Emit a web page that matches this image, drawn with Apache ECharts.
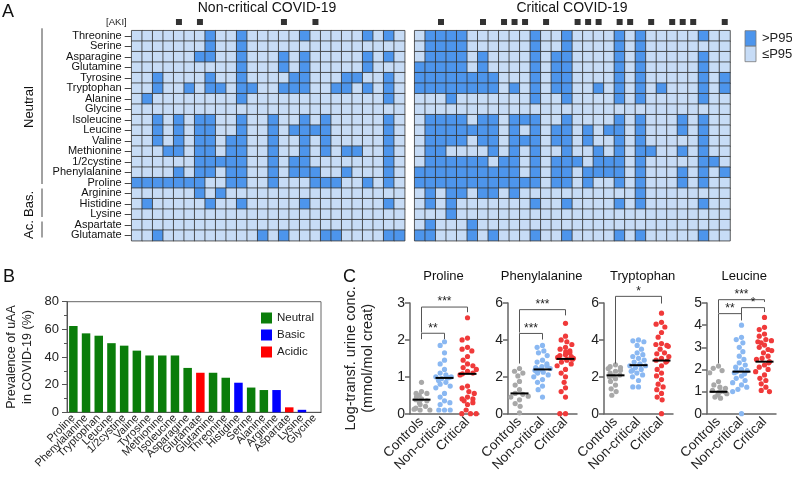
<!DOCTYPE html>
<html><head><meta charset="utf-8">
<script src="https://cdn.jsdelivr.net/npm/echarts@6/dist/echarts.min.js"></script>
<style>html,body{margin:0;padding:0;background:#fff}#c{width:792px;height:483px}</style>
</head><body><div id="c"></div>
<script>
// ---------------- Panel A data ----------------
const aaRows = ['Threonine','Serine','Asparagine','Glutamine','Tyrosine','Tryptophan','Alanine','Glycine','Isoleucine','Leucine','Valine','Methionine','1/2cystine','Phenylalanine','Proline','Arginine','Histidine','Lysine','Aspartate','Glutamate'];
const nNonCritical = 26;
const nCritical = 30;
// patient columns (0-based) with value > P95, one list per amino acid row
const nonCritHigh = [
 [7,10,16,22,24],
 [7,10],
 [6,7,10,14,16,22,24],
 [10,14,16,22],
 [2,7,10,15,16,20,21,24],
 [2,5,7,8,10,11,14,15,16,19,20,22,24],
 [1,10,24],
 [],
 [2,4,6,7,10,13,16,18,24],
 [2,4,6,7,10,13,15,16,17,18,24],
 [2,4,6,7,9,10,13,16,18,24],
 [3,4,6,7,9,10,13,16,18,20,21,24],
 [6,7,8,9,10,13,15,16,24],
 [4,6,7,9,10,13,15,16,17,20,24],
 [0,1,2,3,4,5,6,9,10,13,17,18,19,22,24],
 [6,8],
 [1,7,10,16,24],
 [],
 [],
 [2,12,14,18,19,24,25]
];
const critHigh = [
 [1,2,3,4,11,14,19,21,27],
 [1,2,3,4,11,14,19,21],
 [1,2,3,4,6,11,13,14,19,21,27],
 [0,1,2,3,4,6,11,13,14,19,21,27],
 [0,1,2,3,4,5,6,7,11,13,14,19,21,27,29],
 [0,1,2,3,4,5,6,7,9,11,13,14,17,19,21,23,27,29],
 [3,11,14,19,21,27],
 [],
 [1,2,3,4,6,7,9,10,11,14,19,21,25,27],
 [1,2,3,4,5,6,7,9,11,13,14,16,18,19,21,25,27],
 [1,2,3,4,6,7,9,10,11,13,14,16,19,21,27],
 [1,2,7,9,11,14,17,19,21,22,25,27],
 [1,2,3,4,5,6,8,9,11,13,14,15,17,18,19,21,27,28],
 [0,1,2,3,4,5,6,7,8,9,11,13,14,16,17,18,19,21,25,27,29],
 [0,1,2,3,4,5,6,7,8,9,10,11,13,14,16,19,21,25,27],
 [1,3,4,6,7,9,21],
 [1,3,11,14,19,21,27],
 [3],
 [1,5],
 [0,1,5,7,11,14,19,21,27]
];
const akiNonCrit = [4,6,14,17];
const akiCrit = [2,6,8,9,10,12,15,16,17,19,20,22,24,25,26,29];
const heatLegend = ['>P95','≤P95'];

// ---------------- Panel B data ----------------
const prevNames = ['Proline','Phenylalanine','Tryptophan','Leucine','1/2cystine','Valine','Tyrosine','Methionine','Isoleucine','Asparagine','Glutamate','Glutamine','Threonine','Histidine','Serine','Alanine','Arginine','Aspartate','Lysine','Glycine'];
const prevValues = [62.5,57.1,55.4,50.0,48.2,44.6,41.1,41.1,41.1,32.1,28.6,28.6,25.0,21.4,17.9,16.1,16.1,3.6,1.8,0];
const prevClass = ['Neutral','Neutral','Neutral','Neutral','Neutral','Neutral','Neutral','Neutral','Neutral','Neutral','Acidic','Neutral','Neutral','Basic','Neutral','Neutral','Basic','Acidic','Basic','Neutral'];
const classNames = ['Neutral','Basic','Acidic'];

// ---------------- Panel C data ----------------
const groupNames = ['Controls','Non-critical','Critical'];
const proCtrl = [0.85,0.6,0.55,0.55,0.5,0.45,0.4,0.38,0.35,0.3,0.25,0.2,0.15,0.12,0.1,0.1];
const proNon  = [1.95,1.85,1.65,1.45,1.35,1.2,1.1,1.05,1.0,1.0,0.98,0.97,0.95,0.9,0.85,0.8,0.75,0.7,0.55,0.45,0.35,0.3,0.25,0.1,0.1,0.1];
const proCrit = [2.6,2.05,2.0,1.8,1.75,1.7,1.55,1.45,1.35,1.3,1.25,1.2,1.15,1.1,1.08,1.05,0.75,0.7,0.6,0.55,0.45,0.4,0.4,0.35,0.3,0.25,0.1,0,0,0];
const proMed  = [0.38,0.97,1.08];
const pheCtrl = [2.45,2.3,2.2,2.05,1.75,1.55,1.3,1.1,1.05,0.95,0.9,0.75,0.55,0.4,0.05];
const pheNon  = [3.7,3.6,3.4,3.3,3.15,2.9,2.8,2.7,2.6,2.55,2.5,2.45,2.4,2.4,2.35,2.3,2.25,2.2,2.1,2.0,1.85,1.7,1.5,1.3,0.9];
const pheCrit = [4.9,4.2,4.0,3.9,3.75,3.6,3.5,3.4,3.35,3.3,3.2,3.15,3.1,3.05,3.0,2.95,2.95,2.9,2.8,2.7,2.6,2.4,2.2,2.0,1.7,1.4,1.2,0.9,0,0];
const pheMed  = [1.1,2.4,2.97];
const trpCtrl = [2.65,2.55,2.5,2.45,2.35,2.3,2.2,2.1,2.05,2.0,1.9,1.75,1.55,1.35,1.2,1.0];
const trpNon  = [4.0,3.95,3.9,3.7,3.5,3.3,3.2,3.1,3.0,2.9,2.8,2.7,2.65,2.6,2.6,2.5,2.4,2.35,2.3,2.2,2.1,2.0,1.8,1.45,1.45];
const trpCrit = [5.45,4.95,4.85,4.7,4.4,4.15,3.8,3.75,3.7,3.65,3.5,3.3,3.25,3.1,3.0,2.9,2.85,2.8,2.6,2.4,2.2,2.05,1.85,1.6,1.45,1.3,1.1,0.9,0.75,0];
const trpMed  = [2.08,2.63,2.88];
const leuCtrl = [2.15,2.05,1.95,1.85,1.45,1.3,1.2,1.15,1.05,1.0,1.0,0.95,0.9,0.85,0.75,0.7];
const leuNon  = [4.0,3.45,3.35,3.2,3.0,2.8,2.6,2.45,2.3,2.2,2.1,2.0,1.95,1.9,1.85,1.8,1.7,1.6,1.5,1.4,1.3,1.2,1.1,1.0,0];
const leuCrit = [4.35,3.9,3.8,3.6,3.5,3.35,3.3,3.25,3.2,3.1,3.0,2.9,2.85,2.75,2.6,2.5,2.45,2.35,2.3,2.2,2.1,2.0,1.9,1.75,1.6,1.5,1.35,1.2,1.05,1.0];
const leuMed  = [0.99,1.9,2.35];
// significance brackets: [fromGroup, toGroup, top, leftLegEnd, rightLegEnd]
const proBr = [[0,2,2.89,2.2,2.75],[0,1,2.18,2.02,2.02]]; const proStars = ['***','**'];
const pheBr = [[0,2,5.64,4.4,5.33],[0,1,4.35,2.72,4.02]]; const pheStars = ['***','***'];
const trpBr = [[0,2,6.36,2.72,5.97]]; const trpStars = ['*'];
const leuBr = [[0,2,5.15,4.55,5.05],[0,1,4.52,2.27,4.22],[1,2,4.79,4.22,4.59]]; const leuStars = ['***','**','*'];

// ---------------- styling ----------------
const FONT = 'Liberation Sans, Arial, sans-serif';
const DARK = '#4d95ec', LIGHT = '#c7dcf6';
const GRAY = '#a8a8a8', BLUE = '#8ab8f2', RED = '#f03a3a';
const classColor = {Neutral:'#0a7d0a', Basic:'#0000ff', Acidic:'#ff0000'};
const AX = '#555';

const chart = echarts.init(document.getElementById('c'), null, {renderer:'canvas'});

function heatData(high, n){
  const d=[];
  high.forEach((cols,r)=>{ for(let c=0;c<n;c++) d.push([c,r,cols.includes(c)?1:0]); });
  return d;
}
const colsL = Array.from({length:nNonCritical},(_,i)=>String(i));
const colsR = Array.from({length:nCritical},(_,i)=>String(i));

const grid = [
 {left:131.7, top:30.7, width:273, height:210},
 {left:414.7, top:30.7, width:315.3, height:210},
 {left:131.7, top:17, width:273, height:10},
 {left:414.7, top:17, width:315.3, height:10},
 {left:67, top:301.7, width:254, height:110.6, show:true, borderColor:'#666', borderWidth:1},
 {left:410, top:303, width:69, height:110.7},
 {left:508, top:303, width:69, height:110.7},
 {left:604, top:303, width:69, height:110.7},
 {left:707, top:303, width:69, height:110.7}
];
const xAxis = [
 {gridIndex:0, type:'category', data:colsL, show:false},
 {gridIndex:1, type:'category', data:colsR, show:false},
 {gridIndex:2, type:'category', data:colsL, show:false},
 {gridIndex:3, type:'category', data:colsR, show:false},
 {gridIndex:4, type:'category', data:prevNames,
  axisLine:{lineStyle:{color:AX}}, axisTick:{alignWithLabel:true, length:4, lineStyle:{color:AX}},
  axisLabel:{rotate:45, interval:0, fontSize:11, color:'#222', margin:4, fontFamily:FONT}}
];
const yAxis = [
 {gridIndex:0, type:'category', data:aaRows, inverse:true,
  axisLine:{show:false}, axisTick:{show:true, length:7, alignWithLabel:true, interval:0, lineStyle:{color:'#444'}},
  axisLabel:{fontSize:11, color:'#111', margin:10, interval:0, fontFamily:FONT}},
 {gridIndex:1, type:'category', data:aaRows, inverse:true, show:false},
 {gridIndex:2, type:'category', data:['[AKI]'], axisLine:{show:false}, axisTick:{show:false},
  axisLabel:{fontSize:9.5, color:'#222', margin:5, fontFamily:FONT}},
 {gridIndex:3, type:'category', data:['[AKI]'], show:false},
 {gridIndex:4, type:'value', min:0, max:80, interval:20,
  name:'Prevalence of uAA\nin COVID-19 (%)', nameLocation:'middle', nameGap:31, nameRotate:90,
  nameTextStyle:{fontSize:12.5, color:'#222', lineHeight:16, fontFamily:FONT},
  axisLine:{show:true, lineStyle:{color:AX}}, axisTick:{show:true, length:5, lineStyle:{color:AX}},
  minorTick:{show:true, splitNumber:2, length:3, lineStyle:{color:AX}},
  splitLine:{show:false}, axisLabel:{fontSize:13, color:'#222', fontFamily:FONT}}
];

const series = [
 {type:'heatmap', xAxisIndex:0, yAxisIndex:0, data:heatData(nonCritHigh,nNonCritical),
  itemStyle:{borderColor:'#333', borderWidth:0.8}, emphasis:{disabled:true}},
 {type:'heatmap', xAxisIndex:1, yAxisIndex:1, data:heatData(critHigh,nCritical),
  itemStyle:{borderColor:'#333', borderWidth:0.8}, emphasis:{disabled:true}},
 {type:'scatter', xAxisIndex:2, yAxisIndex:2, data:akiNonCrit.map(c=>[c,0]), symbol:'rect', symbolSize:6, itemStyle:{color:'#000'}},
 {type:'scatter', xAxisIndex:3, yAxisIndex:3, data:akiCrit.map(c=>[c,0]), symbol:'rect', symbolSize:6, itemStyle:{color:'#000'}}
];
classNames.forEach(cn=>{
  series.push({type:'bar', name:cn, xAxisIndex:4, yAxisIndex:4, barWidth:8.5, barGap:'-100%',
    data:prevValues.map((v,i)=>prevClass[i]===cn? v : null), itemStyle:{color:classColor[cn]}});
});

const cPlots = [
 {title:'Proline', max:3, interval:1, g:[proCtrl,proNon,proCrit], med:proMed, br:proBr, st:proStars, tx:443.6},
 {title:'Phenylalanine', max:6, interval:2, g:[pheCtrl,pheNon,pheCrit], med:pheMed, br:pheBr, st:pheStars, tx:541.7},
 {title:'Tryptophan', max:6, interval:2, g:[trpCtrl,trpNon,trpCrit], med:trpMed, br:trpBr, st:trpStars, tx:642.7},
 {title:'Leucine', max:5, interval:1, g:[leuCtrl,leuNon,leuCrit], med:leuMed, br:leuBr, st:leuStars, tx:744.3}
];
const graphic = [];
cPlots.forEach((p,k)=>{
  const gi = 5+k;
  xAxis.push({gridIndex:gi, type:'category', data:groupNames, jitter:18, jitterOverlap:false, jitterMargin:0.5,
    axisLine:{lineStyle:{color:'#666', width:1.5}}, axisTick:{alignWithLabel:true, length:5, lineStyle:{color:'#666', width:1.5}},
    axisLabel:{rotate:45, interval:0, fontSize:13.5, color:'#222', margin:6, fontFamily:FONT}});
  yAxis.push({gridIndex:gi, type:'value', min:0, max:p.max, interval:p.interval,
    name: k===0 ? 'Log-transf. urine conc.\n(mmol/mol creat)' : '', nameLocation:'middle', nameRotate:90, nameGap:34,
    nameTextStyle:{fontSize:14.5, color:'#222', lineHeight:17, fontFamily:FONT},
    axisLine:{show:true, lineStyle:{color:'#666', width:1.5}}, axisTick:{show:true, length:5, lineStyle:{color:'#666', width:1.5}},
    splitLine:{show:false}, axisLabel:{fontSize:14, color:'#222', margin:5, fontFamily:FONT}});
  const cols=[GRAY,BLUE,RED];
  p.g.forEach((vals,gidx)=>{
    series.push({type:'scatter', xAxisIndex:gi, yAxisIndex:gi, symbolSize:5.2,
      data: vals.map(v=>[gidx,v]), itemStyle:{color:cols[gidx], opacity:1}, z:3});
  });
  series.push({type:'custom', xAxisIndex:gi, yAxisIndex:gi, z:4,
    data: p.med.map((m,i)=>[i,m]),
    renderItem:(params,api)=>{
      const c = api.coord([api.value(0), api.value(1)]);
      return {type:'line', shape:{x1:c[0]-9, y1:c[1], x2:c[0]+9, y2:c[1]}, style:{stroke:'#000', lineWidth:2}};
    }});
  const stars = p.st;
  series.push({type:'custom', xAxisIndex:gi, yAxisIndex:gi, z:4, clip:false,
    data: p.br, encode:{x:[0,1], y:[2,3,4]},
    renderItem:(params,api)=>{
      const c0=api.value(0), c1=api.value(1), yt=api.value(2), yl=api.value(3), yr=api.value(4);
      const a=api.coord([c0,yl]), b=api.coord([c0,yt]), c=api.coord([c1,yt]), d=api.coord([c1,yr]);
      return {type:'group', children:[
        {type:'polyline', shape:{points:[a,b,c,d]}, style:{stroke:'#555', lineWidth:1, fill:null}},
        {type:'text', style:{text:stars[params.dataIndex], x:(b[0]+c[0])/2, y:b[1]+1, align:'center', verticalAlign:'bottom', fontSize:12, fill:'#222', fontFamily:FONT}}
      ]};
    }});
  graphic.push({type:'text', x:p.tx, y:276.7, style:{text:p.title, align:'center', verticalAlign:'middle', fontSize:13, fill:'#111', fontFamily:FONT}});
});

// annotations
graphic.push(
 {type:'text', x:2, y:3, style:{text:'A', fontSize:18, fill:'#111', fontFamily:FONT}},
 {type:'text', x:3, y:268, style:{text:'B', fontSize:18, fill:'#111', fontFamily:FONT}},
 {type:'text', x:343, y:268, style:{text:'C', fontSize:18, fill:'#111', fontFamily:FONT}},
 {type:'text', x:267, y:8.5, style:{text:'Non-critical COVID-19', align:'center', verticalAlign:'middle', fontSize:14, fill:'#111', fontFamily:FONT}},
 {type:'text', x:572, y:8.5, style:{text:'Critical COVID-19', align:'center', verticalAlign:'middle', fontSize:14, fill:'#111', fontFamily:FONT}},
 {type:'text', x:29, y:107, rotation:Math.PI/2, style:{text:'Neutral', align:'center', verticalAlign:'middle', fontSize:13, fill:'#111', fontFamily:FONT}},
 {type:'text', x:29, y:204, rotation:Math.PI/2, style:{text:'Bas.', align:'center', verticalAlign:'middle', fontSize:13, fill:'#111', fontFamily:FONT}},
 {type:'text', x:29, y:229.5, rotation:Math.PI/2, style:{text:'Ac.', align:'center', verticalAlign:'middle', fontSize:13, fill:'#111', fontFamily:FONT}},
 {type:'line', shape:{x1:42, y1:28.3, x2:42, y2:184}, style:{stroke:'#444', lineWidth:1}},
 {type:'line', shape:{x1:42, y1:188.5, x2:42, y2:217}, style:{stroke:'#444', lineWidth:1}},
 {type:'line', shape:{x1:42, y1:221.5, x2:42, y2:237.5}, style:{stroke:'#444', lineWidth:1}},
 // heatmap legend
 {type:'rect', shape:{x:745, y:30.7, width:11, height:15.5}, style:{fill:DARK, stroke:'#777', lineWidth:0.8}},
 {type:'rect', shape:{x:745, y:46.2, width:11, height:15.5}, style:{fill:LIGHT, stroke:'#777', lineWidth:0.8}},
 {type:'text', x:762, y:38.5, style:{text:heatLegend[0], verticalAlign:'middle', fontSize:13, fill:'#222', fontFamily:FONT}},
 {type:'text', x:762, y:54, style:{text:heatLegend[1], verticalAlign:'middle', fontSize:13, fill:'#222', fontFamily:FONT}}
);

const option = {
  animation:false,
  textStyle:{fontFamily:FONT},
  grid, xAxis, yAxis, series, graphic,
  visualMap:{type:'piecewise', show:false, seriesIndex:[0,1], dimension:2,
    pieces:[{value:1, color:DARK},{value:0, color:LIGHT}]},
  legend:{data:classNames, left:256, top:307, orient:'vertical', itemWidth:11, itemHeight:11, itemGap:5,
    icon:'rect', selectedMode:false, textStyle:{fontSize:11.5, color:'#222', fontFamily:FONT}, itemStyle:{borderWidth:0}}
};
chart.setOption(option);
</script></body></html>
